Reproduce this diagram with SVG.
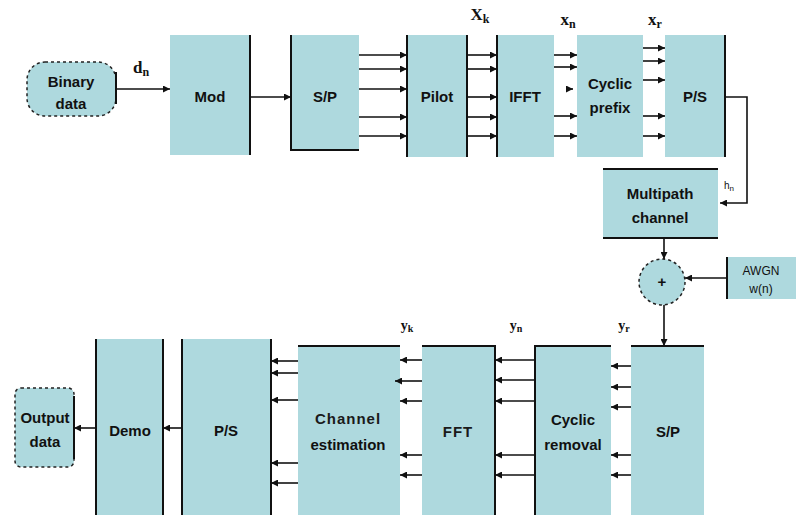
<svg xmlns="http://www.w3.org/2000/svg" width="796" height="517" viewBox="0 0 796 517">
<defs>
<marker id="ah" viewBox="0 0 8 8" refX="8" refY="4" markerWidth="7" markerHeight="7" markerUnits="userSpaceOnUse" orient="auto">
<path d="M0,0 L8,4 L0,8 Z" fill="#111"/>
</marker>
</defs>
<style>
.blk{fill:#aed9de;stroke:none}
.edge{stroke:#111;stroke-width:2;fill:none}
.dash{fill:#aed9de;stroke:#222;stroke-width:1.5;stroke-dasharray:3 3}
.c{stroke:#111;stroke-width:1.6;fill:none;marker-end:url(#ah)}
.t{font-family:"Liberation Sans",Arial,sans-serif;font-size:15px;font-weight:bold;fill:#111;text-anchor:middle}
.tn{font-family:"Liberation Sans",Arial,sans-serif;font-size:15px;font-weight:bold;letter-spacing:1px;fill:#1a1a1a;text-anchor:middle}
.s{font-family:"Liberation Sans",Arial,sans-serif;font-size:12px;fill:#111;text-anchor:middle}
.m{font-family:"Liberation Serif","Times New Roman",serif;font-size:17px;font-weight:bold;fill:#111;text-anchor:middle}
.sub{font-size:12px}
</style>
<rect width="796" height="517" fill="#fff"/>

<g id="binary">
<rect class="dash" x="27" y="62" width="89" height="54" rx="18"/>
<line class="edge" x1="116" y1="72" x2="116" y2="104"/>
<text class="t" x="71" y="87">Binary</text>
<text class="t" x="71" y="109">data</text>
</g>
<g id="mod">
<rect class="blk" x="170" y="35" width="80" height="120"/>
<line class="edge" x1="250" y1="35" x2="250" y2="155"/>
<text class="t" x="210" y="102">Mod</text>
</g>
<g id="sp1">
<rect class="blk" x="291" y="35" width="68" height="115"/>
<path class="edge" d="M291,35 V150 H359"/>
<text class="t" x="325" y="102">S/P</text>
</g>
<g id="pilot">
<rect class="blk" x="407" y="35" width="60" height="122"/>
<line class="edge" x1="407" y1="35" x2="407" y2="157"/>
<line class="edge" x1="467" y1="35" x2="467" y2="157"/>
<text class="t" x="437" y="102">Pilot</text>
</g>
<g id="ifft">
<rect class="blk" x="497" y="35" width="57" height="122"/>
<line class="edge" x1="497" y1="35" x2="497" y2="157"/>
<text class="t" x="525" y="102">IFFT</text>
</g>
<g id="cp">
<rect class="blk" x="577" y="35" width="66" height="122"/>
<text class="t" x="610" y="89">Cyclic</text>
<text class="t" x="610" y="113">prefix</text>
</g>
<g id="ps1">
<rect class="blk" x="665" y="35" width="60" height="122"/>
<line class="edge" x1="725" y1="35" x2="725" y2="157"/>
<text class="t" x="695" y="102">P/S</text>
</g>
<g id="multipath">
<rect class="blk" x="603" y="169" width="115" height="69"/>
<line class="edge" x1="603" y1="169" x2="718" y2="169"/>
<line class="edge" x1="603" y1="238" x2="718" y2="238"/>
<text class="t" x="660" y="199">Multipath</text>
<text class="t" x="660" y="223">channel</text>
</g>
<g id="adder">
<circle class="dash" cx="662" cy="282" r="23"/>
<text class="t" x="662" y="287">+</text>
</g>
<g id="awgn">
<rect class="blk" x="727" y="257" width="69" height="42"/>
<line class="edge" x1="727" y1="257" x2="727" y2="299"/>
<text class="s" x="761" y="275">AWGN</text>
<text class="s" x="761" y="293">w(n)</text>
</g>
<g id="sp2">
<rect class="blk" x="631" y="346" width="73" height="169"/>
<line class="edge" x1="631" y1="346" x2="704" y2="346"/>
<text class="t" x="668" y="437">S/P</text>
</g>
<g id="cr">
<rect class="blk" x="535" y="346" width="76" height="169"/>
<path class="edge" d="M535,515 V346 H611"/>
<text class="t" x="573" y="425">Cyclic</text>
<text class="t" x="573" y="450">removal</text>
</g>
<g id="fft">
<rect class="blk" x="422" y="346" width="73" height="169"/>
<path class="edge" d="M422,346 H495 V515"/>
<text class="tn" x="458" y="437">FFT</text>
</g>
<g id="ce">
<rect class="blk" x="298" y="346" width="102" height="169"/>
<line class="edge" x1="298" y1="346" x2="400" y2="346"/>
<text class="tn" x="348" y="424">Channel</text>
<text class="t" x="348" y="450">estimation</text>
</g>
<g id="ps2">
<rect class="blk" x="182" y="339" width="89" height="176"/>
<line class="edge" x1="182" y1="339" x2="182" y2="515"/>
<line class="edge" x1="271" y1="339" x2="271" y2="515"/>
<text class="t" x="226" y="436">P/S</text>
</g>
<g id="demo">
<rect class="blk" x="96" y="339" width="67" height="176"/>
<line class="edge" x1="96" y1="339" x2="96" y2="515"/>
<line class="edge" x1="163" y1="339" x2="163" y2="515"/>
<text class="t" x="130" y="436">Demo</text>
</g>
<g id="output">
<rect class="dash" x="15" y="388" width="59" height="79" rx="6"/>
<line class="edge" x1="74" y1="396" x2="74" y2="459"/>
<text class="t" x="45" y="423">Output</text>
<text class="t" x="45" y="447">data</text>
</g>

<g id="connectors">
<line class="c" x1="116" y1="89" x2="170" y2="89"/>
<line class="c" x1="250" y1="97" x2="291" y2="97"/>
<line class="c" x1="359" y1="55" x2="407" y2="55"/>
<line class="c" x1="359" y1="69" x2="407" y2="69"/>
<line class="c" x1="359" y1="89" x2="407" y2="89"/>
<line class="c" x1="359" y1="117" x2="407" y2="117"/>
<line class="c" x1="359" y1="136" x2="407" y2="136"/>
<line class="c" x1="467" y1="55" x2="497" y2="55"/>
<line class="c" x1="467" y1="69" x2="497" y2="69"/>
<line class="c" x1="467" y1="97" x2="497" y2="97"/>
<line class="c" x1="467" y1="117" x2="497" y2="117"/>
<line class="c" x1="467" y1="136" x2="497" y2="136"/>
<line class="c" x1="554" y1="55" x2="577" y2="55"/>
<line class="c" x1="554" y1="67" x2="577" y2="67"/>
<line class="c" x1="566" y1="89" x2="573" y2="89"/>
<line class="c" x1="554" y1="116" x2="577" y2="116"/>
<line class="c" x1="554" y1="136" x2="577" y2="136"/>
<line class="c" x1="643" y1="48" x2="665" y2="48"/>
<line class="c" x1="643" y1="61" x2="665" y2="61"/>
<line class="c" x1="643" y1="80" x2="665" y2="80"/>
<line class="c" x1="643" y1="116" x2="665" y2="116"/>
<line class="c" x1="643" y1="136" x2="665" y2="136"/>
<polyline class="c" points="725,97 747,97 747,203 720,203"/>
<line class="c" x1="664" y1="238" x2="664" y2="259"/>
<line class="c" x1="727" y1="278" x2="685" y2="278"/>
<line class="c" x1="664" y1="305" x2="664" y2="346"/>
<line class="c" x1="631" y1="366" x2="611" y2="366"/>
<line class="c" x1="631" y1="387" x2="611" y2="387"/>
<line class="c" x1="631" y1="407" x2="611" y2="407"/>
<line class="c" x1="631" y1="455" x2="611" y2="455"/>
<line class="c" x1="631" y1="475" x2="611" y2="475"/>
<line class="c" x1="535" y1="360" x2="495" y2="360"/>
<line class="c" x1="535" y1="380" x2="495" y2="380"/>
<line class="c" x1="535" y1="401" x2="495" y2="401"/>
<line class="c" x1="535" y1="455" x2="495" y2="455"/>
<line class="c" x1="535" y1="475" x2="495" y2="475"/>
<line class="c" x1="422" y1="360" x2="400" y2="360"/>
<line class="c" x1="422" y1="381" x2="395" y2="381"/>
<line class="c" x1="422" y1="401" x2="400" y2="401"/>
<line class="c" x1="422" y1="455" x2="400" y2="455"/>
<line class="c" x1="422" y1="475" x2="400" y2="475"/>
<line class="c" x1="298" y1="361" x2="271" y2="361"/>
<line class="c" x1="298" y1="373" x2="271" y2="373"/>
<line class="c" x1="298" y1="400" x2="271" y2="400"/>
<line class="c" x1="298" y1="463" x2="271" y2="463"/>
<line class="c" x1="298" y1="483" x2="271" y2="483"/>
<line class="c" x1="182" y1="428" x2="163" y2="428"/>
<line class="c" x1="96" y1="428" x2="74" y2="428"/>
</g>

<g id="labels">
<text class="m" x="141" y="73">d<tspan class="sub" dy="3">n</tspan></text>
<text class="m" x="480" y="20">X<tspan class="sub" dy="3">k</tspan></text>
<text class="m" x="568" y="25">x<tspan class="sub" dy="3">n</tspan></text>
<text class="m" x="655" y="25">x<tspan class="sub" dy="3">r</tspan></text>
<text class="s" x="729" y="189" style="font-size:10px">h<tspan dy="2" style="font-size:8px">n</tspan></text>
<text class="m" x="407" y="330" style="font-size:14px">y<tspan class="sub" dy="2" style="font-size:10px">k</tspan></text>
<text class="m" x="516" y="330" style="font-size:14px">y<tspan class="sub" dy="2" style="font-size:10px">n</tspan></text>
<text class="m" x="624" y="330" style="font-size:14px">y<tspan class="sub" dy="2" style="font-size:10px">r</tspan></text>
</g>
</svg>
